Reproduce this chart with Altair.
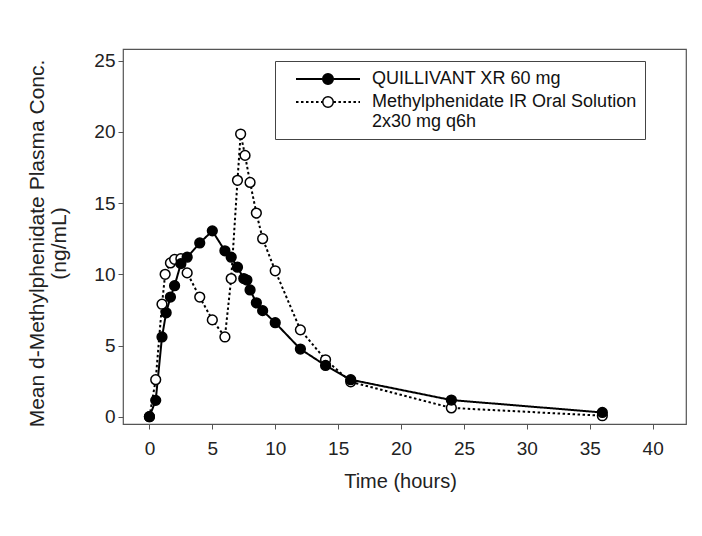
import altair as alt
import pandas as pd

# ---- data ----
SERIES = ["QUILLIVANT XR 60 mg", "Methylphenidate IR Oral Solution|2x30 mg q6h"]
MARKER_KEYS = ["XR", "IR"]  # keys for the marker (fill) scale

q_time = [0, 0.5, 1, 1.33, 1.67, 2, 2.5, 3, 4, 5, 6, 6.5, 7, 7.5, 7.75, 8, 8.5, 9, 10, 12, 14, 16, 24, 36]
q_conc = [0, 1.15, 5.6, 7.3, 8.4, 9.2, 10.75, 11.2, 12.2, 13.05, 11.65, 11.2, 10.5, 9.7, 9.6, 8.9, 8.0, 7.45, 6.6, 4.75, 3.6, 2.6, 1.17, 0.3]

ir_time = [0, 0.5, 1, 1.25, 1.67, 2, 2.5, 3, 4, 5, 6, 6.5, 7, 7.25, 7.6, 8, 8.5, 9, 10, 12, 14, 16, 24, 36]
ir_conc = [0, 2.6, 7.9, 10.0, 10.8, 11.05, 11.1, 10.1, 8.4, 6.8, 5.6, 9.7, 16.6, 19.85, 18.35, 16.45, 14.3, 12.5, 10.25, 6.1, 4.0, 2.45, 0.62, 0.07]

x_ticks = [0, 5, 10, 15, 20, 25, 30, 35, 40]
y_ticks = [0, 5, 10, 15, 20, 25]

rows = []
for t, c in zip(ir_time, ir_conc):
    rows.append({"time": t, "conc": c, "series": SERIES[1], "marker": MARKER_KEYS[1]})
for t, c in zip(q_time, q_conc):
    rows.append({"time": t, "conc": c, "series": SERIES[0], "marker": MARKER_KEYS[0]})
df = pd.DataFrame(rows)

FONT = "Liberation Sans"

x_enc = alt.X("time:Q", scale=alt.Scale(domain=[-2.1, 42.65], nice=False, zero=False),
              axis=alt.Axis(values=x_ticks, title="Time (hours)", titleX=277))
y_enc = alt.Y("conc:Q", scale=alt.Scale(domain=[-0.51, 25.82], nice=False, zero=False),
              axis=alt.Axis(values=y_ticks, titleY=194, titleLineHeight=22,
                            title=["Mean d-Methylphenidate Plasma Conc.", "(ng/mL)"]))

common_legend = dict(
    orient="none", legendX=152, legendY=12, title=None,
    labelFont=FONT, labelFontSize=18, labelLimit=0,
    labelBaseline="middle",
    symbolSize=4096, clipHeight=20, rowPadding=3, padding=8,
    symbolOffset=12, labelOffset=11,
)

lines = alt.Chart(df).mark_line(color="black", strokeWidth=2).encode(
    x=x_enc, y=y_enc,
    strokeDash=alt.StrokeDash(
        "series:N",
        scale=alt.Scale(domain=SERIES, range=[[1, 0], [2.5, 2.5]]),
        legend=alt.Legend(
            symbolType="M-1,0H-0.17M0.17,0H1",
            symbolStrokeWidth=2, symbolStrokeColor="black",
            labelExpr="split(datum.label, '|')", labelColor="#111",
            strokeColor="#444", zindex=1, **common_legend),
    ),
)

points = alt.Chart(df).mark_point(
    shape="circle", filled=True, size=95, stroke="black", strokeWidth=1.5, opacity=1
).encode(
    x=x_enc, y=y_enc,
    fill=alt.Fill(
        "marker:N",
        scale=alt.Scale(domain=MARKER_KEYS, range=["black", "white"]),
        legend=alt.Legend(
            symbolType="M0.165,0A0.165,0.165,0,1,1,-0.165,0A0.165,0.165,0,1,1,0.165,0Z",
            symbolStrokeWidth=1.5, symbolStrokeColor="black", symbolOpacity=1,
            labelExpr="''", labelOpacity=0, zindex=2, **common_legend),
    ),
)

chart = (
    alt.layer(lines, points)
    .properties(width=563, height=375, background="white",
                autosize=alt.AutoSizeParams(type="none"),
                padding={"left": 115, "top": 41, "right": 8, "bottom": 90})
    .configure_view(stroke="#555", strokeWidth=1.2)
    .configure_axis(
        labelFont=FONT, titleFont=FONT, labelFontSize=19,
        titleFontWeight="normal", labelColor="#222", titleColor="#222",
        tickColor="#555", tickSize=5, domain=False, grid=False,
    )
    .configure_axisX(labelPadding=10, titlePadding=13, titleFontSize=20)
    .configure_axisY(labelPadding=3, titlePadding=24, titleFontSize=21)
)

chart.save("out.html", embed_options={"renderer": "svg", "actions": False})
